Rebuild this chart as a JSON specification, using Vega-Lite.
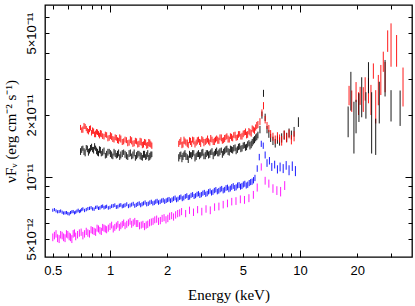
{
"$schema": "https://vega.github.io/schema/vega-lite/v6.json",
"width": 367, "height": 252,
"autosize": {"type": "none"},
"padding": {"left": 45, "top": 5, "right": 3, "bottom": 49},
"background": "white",
"config": {"view": {"stroke": "#000", "strokeWidth": 1.3}, "axis": {"grid": false, "domain": false, "tickColor": "#000", "tickWidth": 1}},
"resolve": {"axis": {"x": "independent", "y": "independent"}},
"layer": [
{
"data": {"values": [
{"s":"r","E":0.70,"F":1.74,"e":0.05},{"s":"r","E":0.72,"F":1.70,"e":0.06},{"s":"r","E":0.74,"F":1.76,"e":0.05},{"s":"r","E":0.76,"F":1.68,"e":0.05},{"s":"r","E":0.78,"F":1.71,"e":0.06},{"s":"r","E":0.80,"F":1.64,"e":0.05},{"s":"r","E":0.82,"F":1.67,"e":0.05},{"s":"r","E":0.84,"F":1.62,"e":0.06},{"s":"r","E":0.86,"F":1.65,"e":0.05},{"s":"r","E":0.88,"F":1.59,"e":0.05},{"s":"r","E":0.90,"F":1.62,"e":0.06},{"s":"r","E":0.93,"F":1.57,"e":0.05},{"s":"r","E":0.96,"F":1.60,"e":0.05},{"s":"r","E":0.99,"F":1.55,"e":0.05},{"s":"r","E":1.02,"F":1.57,"e":0.06},{"s":"r","E":1.05,"F":1.52,"e":0.05},{"s":"r","E":1.08,"F":1.55,"e":0.05},{"s":"r","E":1.11,"F":1.50,"e":0.05},{"s":"r","E":1.14,"F":1.53,"e":0.06},{"s":"r","E":1.18,"F":1.49,"e":0.05},{"s":"r","E":1.22,"F":1.51,"e":0.05},{"s":"r","E":1.26,"F":1.47,"e":0.05},{"s":"r","E":1.30,"F":1.50,"e":0.06},{"s":"r","E":1.34,"F":1.46,"e":0.05},{"s":"r","E":1.38,"F":1.49,"e":0.05},{"s":"r","E":1.42,"F":1.45,"e":0.05},{"s":"r","E":1.46,"F":1.48,"e":0.06},{"s":"r","E":1.50,"F":1.44,"e":0.05},{"s":"r","E":1.54,"F":1.47,"e":0.05},{"s":"r","E":1.58,"F":1.43,"e":0.05},{"s":"r","E":1.62,"F":1.46,"e":0.06},{"s":"r","E":1.66,"F":1.42,"e":0.05},
{"s":"r","E":0.71,"F":1.69,"e":0.05},{"s":"r","E":0.73,"F":1.77,"e":0.06},{"s":"r","E":0.75,"F":1.72,"e":0.05},{"s":"r","E":0.77,"F":1.66,"e":0.05},{"s":"r","E":0.79,"F":1.73,"e":0.05},{"s":"r","E":0.81,"F":1.68,"e":0.06},{"s":"r","E":0.83,"F":1.61,"e":0.05},{"s":"r","E":0.85,"F":1.66,"e":0.05},{"s":"r","E":0.87,"F":1.62,"e":0.05},{"s":"r","E":0.89,"F":1.63,"e":0.06},{"s":"r","E":0.915,"F":1.58,"e":0.05},{"s":"r","E":0.945,"F":1.61,"e":0.05},{"s":"r","E":0.975,"F":1.54,"e":0.05},{"s":"r","E":1.005,"F":1.59,"e":0.06},{"s":"r","E":1.035,"F":1.53,"e":0.05},{"s":"r","E":1.065,"F":1.56,"e":0.05},{"s":"r","E":1.095,"F":1.51,"e":0.05},{"s":"r","E":1.125,"F":1.55,"e":0.06},{"s":"r","E":1.16,"F":1.48,"e":0.05},{"s":"r","E":1.20,"F":1.52,"e":0.05},{"s":"r","E":1.24,"F":1.46,"e":0.05},{"s":"r","E":1.28,"F":1.52,"e":0.06},{"s":"r","E":1.32,"F":1.45,"e":0.05},{"s":"r","E":1.36,"F":1.50,"e":0.05},{"s":"r","E":1.40,"F":1.44,"e":0.05},{"s":"r","E":1.44,"F":1.49,"e":0.06},{"s":"r","E":1.48,"F":1.43,"e":0.05},{"s":"r","E":1.52,"F":1.48,"e":0.05},{"s":"r","E":1.56,"F":1.42,"e":0.05},{"s":"r","E":1.60,"F":1.47,"e":0.06},{"s":"r","E":1.64,"F":1.44,"e":0.05},
{"s":"k","E":0.70,"F":1.33,"e":0.05},{"s":"k","E":0.72,"F":1.38,"e":0.04},{"s":"k","E":0.74,"F":1.31,"e":0.05},{"s":"k","E":0.76,"F":1.37,"e":0.05},{"s":"k","E":0.78,"F":1.34,"e":0.04},{"s":"k","E":0.80,"F":1.40,"e":0.05},{"s":"k","E":0.82,"F":1.35,"e":0.05},{"s":"k","E":0.84,"F":1.38,"e":0.04},{"s":"k","E":0.86,"F":1.32,"e":0.05},{"s":"k","E":0.88,"F":1.36,"e":0.05},{"s":"k","E":0.90,"F":1.30,"e":0.04},{"s":"k","E":0.93,"F":1.34,"e":0.05},{"s":"k","E":0.96,"F":1.29,"e":0.05},{"s":"k","E":0.99,"F":1.33,"e":0.04},{"s":"k","E":1.02,"F":1.28,"e":0.05},{"s":"k","E":1.05,"F":1.32,"e":0.05},{"s":"k","E":1.08,"F":1.27,"e":0.04},{"s":"k","E":1.11,"F":1.31,"e":0.05},{"s":"k","E":1.14,"F":1.28,"e":0.05},{"s":"k","E":1.18,"F":1.32,"e":0.04},{"s":"k","E":1.22,"F":1.27,"e":0.05},{"s":"k","E":1.26,"F":1.30,"e":0.05},{"s":"k","E":1.30,"F":1.26,"e":0.04},{"s":"k","E":1.34,"F":1.31,"e":0.05},{"s":"k","E":1.38,"F":1.27,"e":0.05},{"s":"k","E":1.42,"F":1.30,"e":0.04},{"s":"k","E":1.46,"F":1.26,"e":0.05},{"s":"k","E":1.50,"F":1.29,"e":0.05},{"s":"k","E":1.54,"F":1.25,"e":0.04},{"s":"k","E":1.58,"F":1.30,"e":0.05},{"s":"k","E":1.62,"F":1.26,"e":0.05},{"s":"k","E":1.66,"F":1.29,"e":0.04},
{"s":"k","E":0.71,"F":1.36,"e":0.05},{"s":"k","E":0.73,"F":1.33,"e":0.05},{"s":"k","E":0.75,"F":1.39,"e":0.04},{"s":"k","E":0.77,"F":1.32,"e":0.05},{"s":"k","E":0.79,"F":1.38,"e":0.05},{"s":"k","E":0.81,"F":1.36,"e":0.04},{"s":"k","E":0.83,"F":1.41,"e":0.05},{"s":"k","E":0.85,"F":1.34,"e":0.05},{"s":"k","E":0.87,"F":1.30,"e":0.04},{"s":"k","E":0.89,"F":1.35,"e":0.05},{"s":"k","E":0.915,"F":1.32,"e":0.05},{"s":"k","E":0.945,"F":1.27,"e":0.04},{"s":"k","E":0.975,"F":1.32,"e":0.05},{"s":"k","E":1.005,"F":1.30,"e":0.05},{"s":"k","E":1.035,"F":1.26,"e":0.04},{"s":"k","E":1.065,"F":1.30,"e":0.05},{"s":"k","E":1.095,"F":1.29,"e":0.05},{"s":"k","E":1.125,"F":1.25,"e":0.04},{"s":"k","E":1.16,"F":1.30,"e":0.05},{"s":"k","E":1.20,"F":1.29,"e":0.05},{"s":"k","E":1.24,"F":1.25,"e":0.04},{"s":"k","E":1.28,"F":1.31,"e":0.05},{"s":"k","E":1.32,"F":1.28,"e":0.05},{"s":"k","E":1.36,"F":1.24,"e":0.04},{"s":"k","E":1.40,"F":1.29,"e":0.05},{"s":"k","E":1.44,"F":1.27,"e":0.05},{"s":"k","E":1.48,"F":1.24,"e":0.04},{"s":"k","E":1.52,"F":1.29,"e":0.05},{"s":"k","E":1.56,"F":1.27,"e":0.05},{"s":"k","E":1.60,"F":1.24,"e":0.04},{"s":"k","E":1.64,"F":1.28,"e":0.05},
{"s":"k","E":2.30,"F":1.24,"e":0.05},{"s":"k","E":2.36,"F":1.29,"e":0.04},{"s":"k","E":2.42,"F":1.26,"e":0.05},{"s":"k","E":2.48,"F":1.30,"e":0.05},{"s":"k","E":2.55,"F":1.25,"e":0.04},{"s":"k","E":2.62,"F":1.29,"e":0.05},{"s":"k","E":2.69,"F":1.27,"e":0.05},{"s":"k","E":2.76,"F":1.31,"e":0.04},{"s":"k","E":2.84,"F":1.26,"e":0.05},{"s":"k","E":2.92,"F":1.30,"e":0.05},{"s":"k","E":3.00,"F":1.28,"e":0.04},{"s":"k","E":3.08,"F":1.32,"e":0.05},{"s":"k","E":3.17,"F":1.27,"e":0.05},{"s":"k","E":3.26,"F":1.31,"e":0.04},{"s":"k","E":3.35,"F":1.29,"e":0.05},{"s":"k","E":3.44,"F":1.33,"e":0.05},{"s":"k","E":3.54,"F":1.30,"e":0.04},{"s":"k","E":3.64,"F":1.34,"e":0.05},{"s":"k","E":3.74,"F":1.31,"e":0.05},{"s":"k","E":3.85,"F":1.35,"e":0.04},{"s":"k","E":3.96,"F":1.32,"e":0.05},{"s":"k","E":4.07,"F":1.36,"e":0.05},{"s":"k","E":4.18,"F":1.33,"e":0.05},{"s":"k","E":4.30,"F":1.37,"e":0.05},{"s":"k","E":4.42,"F":1.35,"e":0.05},{"s":"k","E":4.55,"F":1.39,"e":0.05},{"s":"k","E":4.68,"F":1.36,"e":0.05},{"s":"k","E":4.81,"F":1.41,"e":0.05},{"s":"k","E":4.95,"F":1.38,"e":0.05},{"s":"k","E":5.09,"F":1.43,"e":0.05},{"s":"k","E":5.23,"F":1.40,"e":0.05},{"s":"k","E":5.38,"F":1.46,"e":0.05},{"s":"k","E":5.53,"F":1.44,"e":0.06},{"s":"k","E":5.68,"F":1.50,"e":0.06},{"s":"k","E":5.84,"F":1.55,"e":0.06},{"s":"k","E":6.00,"F":1.60,"e":0.06},{"s":"k","E":6.15,"F":1.70,"e":0.07},{"s":"k","E":6.30,"F":2.00,"e":0.08},{"s":"k","E":6.42,"F":2.55,"e":0.10},{"s":"k","E":6.55,"F":1.95,"e":0.08},{"s":"k","E":6.70,"F":1.70,"e":0.07},{"s":"k","E":6.85,"F":1.62,"e":0.07},{"s":"k","E":7.00,"F":1.55,"e":0.07},{"s":"k","E":7.20,"F":1.50,"e":0.07},{"s":"k","E":7.40,"F":1.46,"e":0.07},{"s":"k","E":7.60,"F":1.52,"e":0.07},{"s":"k","E":7.80,"F":1.49,"e":0.07},{"s":"k","E":8.00,"F":1.55,"e":0.08},{"s":"k","E":8.25,"F":1.60,"e":0.08},{"s":"k","E":8.50,"F":1.56,"e":0.08},{"s":"k","E":8.75,"F":1.64,"e":0.08},{"s":"k","E":9.00,"F":1.60,"e":0.08},{"s":"k","E":9.30,"F":1.66,"e":0.09},{"s":"k","E":9.80,"F":1.85,"e":0.10},
{"s":"k","E":2.33,"F":1.27,"e":0.05},{"s":"k","E":2.39,"F":1.23,"e":0.05},{"s":"k","E":2.45,"F":1.29,"e":0.04},{"s":"k","E":2.51,"F":1.26,"e":0.05},{"s":"k","E":2.58,"F":1.22,"e":0.05},{"s":"k","E":2.65,"F":1.28,"e":0.04},{"s":"k","E":2.72,"F":1.30,"e":0.05},{"s":"k","E":2.80,"F":1.24,"e":0.05},{"s":"k","E":2.88,"F":1.29,"e":0.04},{"s":"k","E":2.96,"F":1.27,"e":0.05},{"s":"k","E":3.04,"F":1.31,"e":0.05},{"s":"k","E":3.12,"F":1.26,"e":0.04},{"s":"k","E":3.21,"F":1.30,"e":0.05},{"s":"k","E":3.30,"F":1.28,"e":0.05},{"s":"k","E":3.39,"F":1.32,"e":0.04},{"s":"k","E":3.49,"F":1.27,"e":0.05},{"s":"k","E":3.59,"F":1.32,"e":0.05},{"s":"k","E":3.69,"F":1.30,"e":0.04},{"s":"k","E":3.79,"F":1.33,"e":0.05},{"s":"k","E":3.90,"F":1.29,"e":0.05},{"s":"k","E":4.01,"F":1.34,"e":0.05},{"s":"k","E":4.12,"F":1.37,"e":0.05},{"s":"k","E":4.24,"F":1.32,"e":0.05},{"s":"k","E":4.36,"F":1.36,"e":0.05},{"s":"k","E":4.48,"F":1.38,"e":0.05},{"s":"k","E":4.61,"F":1.34,"e":0.05},{"s":"k","E":4.74,"F":1.40,"e":0.05},{"s":"k","E":4.88,"F":1.37,"e":0.05},{"s":"k","E":5.02,"F":1.42,"e":0.05},{"s":"k","E":5.16,"F":1.39,"e":0.05},{"s":"k","E":5.30,"F":1.44,"e":0.05},{"s":"k","E":5.45,"F":1.42,"e":0.06},{"s":"k","E":5.60,"F":1.47,"e":0.06},{"s":"k","E":5.76,"F":1.52,"e":0.06},{"s":"k","E":5.92,"F":1.57,"e":0.06},
{"s":"r","E":2.30,"F":1.45,"e":0.05},{"s":"r","E":2.36,"F":1.50,"e":0.06},{"s":"r","E":2.42,"F":1.44,"e":0.05},{"s":"r","E":2.48,"F":1.49,"e":0.05},{"s":"r","E":2.55,"F":1.46,"e":0.06},{"s":"r","E":2.62,"F":1.51,"e":0.05},{"s":"r","E":2.69,"F":1.45,"e":0.05},{"s":"r","E":2.76,"F":1.50,"e":0.06},{"s":"r","E":2.84,"F":1.47,"e":0.05},{"s":"r","E":2.92,"F":1.52,"e":0.05},{"s":"r","E":3.00,"F":1.46,"e":0.06},{"s":"r","E":3.08,"F":1.51,"e":0.05},{"s":"r","E":3.17,"F":1.48,"e":0.05},{"s":"r","E":3.26,"F":1.53,"e":0.06},{"s":"r","E":3.35,"F":1.47,"e":0.05},{"s":"r","E":3.44,"F":1.52,"e":0.05},{"s":"r","E":3.54,"F":1.49,"e":0.06},{"s":"r","E":3.64,"F":1.54,"e":0.05},{"s":"r","E":3.74,"F":1.50,"e":0.05},{"s":"r","E":3.85,"F":1.55,"e":0.06},{"s":"r","E":3.96,"F":1.51,"e":0.05},{"s":"r","E":4.07,"F":1.56,"e":0.05},{"s":"r","E":4.18,"F":1.53,"e":0.06},{"s":"r","E":4.30,"F":1.58,"e":0.05},{"s":"r","E":4.42,"F":1.54,"e":0.05},{"s":"r","E":4.55,"F":1.60,"e":0.06},{"s":"r","E":4.68,"F":1.56,"e":0.05},{"s":"r","E":4.81,"F":1.62,"e":0.05},{"s":"r","E":4.95,"F":1.58,"e":0.06},{"s":"r","E":5.09,"F":1.64,"e":0.05},{"s":"r","E":5.23,"F":1.60,"e":0.06},{"s":"r","E":5.38,"F":1.67,"e":0.06},{"s":"r","E":5.53,"F":1.63,"e":0.06},{"s":"r","E":5.68,"F":1.70,"e":0.06},{"s":"r","E":5.84,"F":1.74,"e":0.06},{"s":"r","E":6.00,"F":1.80,"e":0.07},{"s":"r","E":6.15,"F":1.86,"e":0.07},{"s":"r","E":6.30,"F":2.05,"e":0.08},{"s":"r","E":6.42,"F":2.22,"e":0.09},{"s":"r","E":6.55,"F":1.90,"e":0.08},{"s":"r","E":6.70,"F":1.78,"e":0.07},{"s":"r","E":6.85,"F":1.72,"e":0.07},{"s":"r","E":7.00,"F":1.62,"e":0.07},{"s":"r","E":7.20,"F":1.57,"e":0.07},{"s":"r","E":7.40,"F":1.52,"e":0.07},{"s":"r","E":7.60,"F":1.58,"e":0.07},{"s":"r","E":7.80,"F":1.54,"e":0.07},{"s":"r","E":8.00,"F":1.50,"e":0.08},{"s":"r","E":8.25,"F":1.60,"e":0.08},{"s":"r","E":8.50,"F":1.55,"e":0.08},{"s":"r","E":8.75,"F":1.62,"e":0.08},{"s":"r","E":9.00,"F":1.52,"e":0.08},{"s":"r","E":9.30,"F":1.58,"e":0.09},
{"s":"r","E":2.33,"F":1.48,"e":0.05},{"s":"r","E":2.39,"F":1.43,"e":0.05},{"s":"r","E":2.45,"F":1.51,"e":0.06},{"s":"r","E":2.51,"F":1.47,"e":0.05},{"s":"r","E":2.58,"F":1.43,"e":0.05},{"s":"r","E":2.65,"F":1.49,"e":0.06},{"s":"r","E":2.72,"F":1.52,"e":0.05},{"s":"r","E":2.80,"F":1.44,"e":0.05},{"s":"r","E":2.88,"F":1.50,"e":0.06},{"s":"r","E":2.96,"F":1.48,"e":0.05},{"s":"r","E":3.04,"F":1.53,"e":0.05},{"s":"r","E":3.12,"F":1.47,"e":0.06},{"s":"r","E":3.21,"F":1.50,"e":0.05},{"s":"r","E":3.30,"F":1.49,"e":0.05},{"s":"r","E":3.39,"F":1.54,"e":0.06},{"s":"r","E":3.49,"F":1.48,"e":0.05},{"s":"r","E":3.59,"F":1.52,"e":0.05},{"s":"r","E":3.69,"F":1.51,"e":0.06},{"s":"r","E":3.79,"F":1.56,"e":0.05},{"s":"r","E":3.90,"F":1.50,"e":0.05},{"s":"r","E":4.01,"F":1.54,"e":0.06},{"s":"r","E":4.12,"F":1.58,"e":0.05},{"s":"r","E":4.24,"F":1.52,"e":0.05},{"s":"r","E":4.36,"F":1.56,"e":0.06},{"s":"r","E":4.48,"F":1.60,"e":0.05},{"s":"r","E":4.61,"F":1.55,"e":0.05},{"s":"r","E":4.74,"F":1.61,"e":0.06},{"s":"r","E":4.88,"F":1.57,"e":0.05},{"s":"r","E":5.02,"F":1.62,"e":0.06},{"s":"r","E":5.16,"F":1.66,"e":0.06},{"s":"r","E":5.30,"F":1.61,"e":0.06},{"s":"r","E":5.45,"F":1.65,"e":0.06},{"s":"r","E":5.60,"F":1.72,"e":0.06},{"s":"r","E":5.76,"F":1.68,"e":0.06},{"s":"r","E":5.92,"F":1.78,"e":0.07},
{"s":"b","E":0.50,"F":0.690,"e":0.012},{"s":"b","E":0.52,"F":0.685,"e":0.012},{"s":"b","E":0.54,"F":0.680,"e":0.012},{"s":"b","E":0.56,"F":0.675,"e":0.012},{"s":"b","E":0.58,"F":0.670,"e":0.012},{"s":"b","E":0.60,"F":0.665,"e":0.012},{"s":"b","E":0.62,"F":0.672,"e":0.012},{"s":"b","E":0.64,"F":0.680,"e":0.012},{"s":"b","E":0.66,"F":0.675,"e":0.012},{"s":"b","E":0.68,"F":0.690,"e":0.012},{"s":"b","E":0.70,"F":0.685,"e":0.012},{"s":"b","E":0.72,"F":0.700,"e":0.013},{"s":"b","E":0.75,"F":0.695,"e":0.013},{"s":"b","E":0.78,"F":0.705,"e":0.013},{"s":"b","E":0.81,"F":0.700,"e":0.013},{"s":"b","E":0.84,"F":0.712,"e":0.013},{"s":"b","E":0.87,"F":0.705,"e":0.013},{"s":"b","E":0.90,"F":0.718,"e":0.014},{"s":"b","E":0.93,"F":0.710,"e":0.014},{"s":"b","E":0.96,"F":0.720,"e":0.014},{"s":"b","E":1.00,"F":0.712,"e":0.014},{"s":"b","E":1.04,"F":0.725,"e":0.015},{"s":"b","E":1.08,"F":0.715,"e":0.015},{"s":"b","E":1.12,"F":0.728,"e":0.015},{"s":"b","E":1.16,"F":0.720,"e":0.015},{"s":"b","E":1.20,"F":0.730,"e":0.016},{"s":"b","E":1.25,"F":0.722,"e":0.016},{"s":"b","E":1.30,"F":0.735,"e":0.016},{"s":"b","E":1.35,"F":0.725,"e":0.016},{"s":"b","E":1.40,"F":0.740,"e":0.017},{"s":"b","E":1.45,"F":0.730,"e":0.017},{"s":"b","E":1.50,"F":0.745,"e":0.017},{"s":"b","E":1.56,"F":0.738,"e":0.018},{"s":"b","E":1.62,"F":0.752,"e":0.018},{"s":"b","E":1.68,"F":0.745,"e":0.018},{"s":"b","E":1.74,"F":0.760,"e":0.019},{"s":"b","E":1.80,"F":0.752,"e":0.019},{"s":"b","E":1.87,"F":0.768,"e":0.019},{"s":"b","E":1.94,"F":0.760,"e":0.020},{"s":"b","E":2.01,"F":0.775,"e":0.020},{"s":"b","E":2.08,"F":0.768,"e":0.020},{"s":"b","E":2.16,"F":0.785,"e":0.021},{"s":"b","E":2.24,"F":0.775,"e":0.021},{"s":"b","E":2.32,"F":0.795,"e":0.021},{"s":"b","E":2.40,"F":0.785,"e":0.022},{"s":"b","E":2.49,"F":0.805,"e":0.022},{"s":"b","E":2.58,"F":0.795,"e":0.022},{"s":"b","E":2.67,"F":0.815,"e":0.023},{"s":"b","E":2.77,"F":0.805,"e":0.023},{"s":"b","E":2.87,"F":0.825,"e":0.023},{"s":"b","E":2.97,"F":0.815,"e":0.024},{"s":"b","E":3.08,"F":0.835,"e":0.024},{"s":"b","E":3.19,"F":0.825,"e":0.024},{"s":"b","E":3.30,"F":0.848,"e":0.025},{"s":"b","E":3.42,"F":0.838,"e":0.025},{"s":"b","E":3.54,"F":0.860,"e":0.026},{"s":"b","E":3.67,"F":0.850,"e":0.026},{"s":"b","E":3.80,"F":0.870,"e":0.027},{"s":"b","E":3.94,"F":0.860,"e":0.027},{"s":"b","E":4.08,"F":0.885,"e":0.028},{"s":"b","E":4.22,"F":0.872,"e":0.028},{"s":"b","E":4.37,"F":0.895,"e":0.029},{"s":"b","E":4.53,"F":0.885,"e":0.029},{"s":"b","E":4.69,"F":0.910,"e":0.030},{"s":"b","E":4.86,"F":0.898,"e":0.030},{"s":"b","E":5.03,"F":0.920,"e":0.031},{"s":"b","E":5.21,"F":0.910,"e":0.031},{"s":"b","E":5.40,"F":0.935,"e":0.032},{"s":"b","E":5.59,"F":0.950,"e":0.033},{"s":"b","E":5.79,"F":0.990,"e":0.035},{"s":"b","E":5.95,"F":1.10,"e":0.040},{"s":"b","E":6.10,"F":1.25,"e":0.045},{"s":"b","E":6.25,"F":1.45,"e":0.050},{"s":"b","E":6.40,"F":1.42,"e":0.050},{"s":"b","E":6.55,"F":1.28,"e":0.050},{"s":"b","E":6.70,"F":1.17,"e":0.050},{"s":"b","E":6.90,"F":1.20,"e":0.050},{"s":"b","E":7.10,"F":1.12,"e":0.050},{"s":"b","E":7.35,"F":1.15,"e":0.050},{"s":"b","E":7.60,"F":1.09,"e":0.050},{"s":"b","E":7.85,"F":1.12,"e":0.055},{"s":"b","E":8.15,"F":1.10,"e":0.055},{"s":"b","E":8.45,"F":1.14,"e":0.055},{"s":"b","E":8.75,"F":1.08,"e":0.060},{"s":"b","E":9.10,"F":1.13,"e":0.060},{"s":"b","E":9.45,"F":1.07,"e":0.060},
{"s":"b","E":0.51,"F":0.695,"e":0.012},{"s":"b","E":0.53,"F":0.678,"e":0.012},{"s":"b","E":0.55,"F":0.684,"e":0.012},{"s":"b","E":0.57,"F":0.668,"e":0.012},{"s":"b","E":0.59,"F":0.672,"e":0.012},{"s":"b","E":0.61,"F":0.662,"e":0.012},{"s":"b","E":0.63,"F":0.678,"e":0.012},{"s":"b","E":0.65,"F":0.670,"e":0.012},{"s":"b","E":0.67,"F":0.683,"e":0.012},{"s":"b","E":0.69,"F":0.680,"e":0.012},{"s":"b","E":0.71,"F":0.695,"e":0.013},{"s":"b","E":0.735,"F":0.688,"e":0.013},{"s":"b","E":0.765,"F":0.702,"e":0.013},{"s":"b","E":0.795,"F":0.710,"e":0.013},{"s":"b","E":0.825,"F":0.698,"e":0.013},{"s":"b","E":0.855,"F":0.715,"e":0.013},{"s":"b","E":0.885,"F":0.708,"e":0.014},{"s":"b","E":0.915,"F":0.722,"e":0.014},{"s":"b","E":0.945,"F":0.715,"e":0.014},{"s":"b","E":0.98,"F":0.708,"e":0.014},{"s":"b","E":1.02,"F":0.722,"e":0.015},{"s":"b","E":1.06,"F":0.730,"e":0.015},{"s":"b","E":1.10,"F":0.718,"e":0.015},{"s":"b","E":1.14,"F":0.732,"e":0.015},{"s":"b","E":1.18,"F":0.725,"e":0.016},{"s":"b","E":1.225,"F":0.738,"e":0.016},{"s":"b","E":1.275,"F":0.728,"e":0.016},{"s":"b","E":1.325,"F":0.742,"e":0.016},{"s":"b","E":1.375,"F":0.732,"e":0.017},{"s":"b","E":1.425,"F":0.745,"e":0.017},{"s":"b","E":1.475,"F":0.738,"e":0.017},{"s":"b","E":1.53,"F":0.752,"e":0.018},{"s":"b","E":1.59,"F":0.742,"e":0.018},{"s":"b","E":1.65,"F":0.758,"e":0.018},{"s":"b","E":1.71,"F":0.750,"e":0.019},{"s":"b","E":1.77,"F":0.765,"e":0.019},{"s":"b","E":1.835,"F":0.758,"e":0.019},{"s":"b","E":1.905,"F":0.772,"e":0.020},{"s":"b","E":1.975,"F":0.768,"e":0.020},{"s":"b","E":2.045,"F":0.780,"e":0.020},{"s":"b","E":2.12,"F":0.775,"e":0.021},{"s":"b","E":2.20,"F":0.792,"e":0.021},{"s":"b","E":2.28,"F":0.782,"e":0.021},{"s":"b","E":2.36,"F":0.800,"e":0.022},{"s":"b","E":2.445,"F":0.792,"e":0.022},{"s":"b","E":2.535,"F":0.812,"e":0.022},{"s":"b","E":2.625,"F":0.800,"e":0.023},{"s":"b","E":2.72,"F":0.822,"e":0.023},{"s":"b","E":2.82,"F":0.812,"e":0.023},{"s":"b","E":2.92,"F":0.830,"e":0.024},{"s":"b","E":3.025,"F":0.822,"e":0.024},{"s":"b","E":3.135,"F":0.842,"e":0.024},{"s":"b","E":3.245,"F":0.832,"e":0.025},{"s":"b","E":3.36,"F":0.855,"e":0.025},{"s":"b","E":3.48,"F":0.845,"e":0.026},{"s":"b","E":3.605,"F":0.868,"e":0.026},{"s":"b","E":3.735,"F":0.858,"e":0.027},{"s":"b","E":3.87,"F":0.878,"e":0.027},{"s":"b","E":4.01,"F":0.868,"e":0.028},{"s":"b","E":4.15,"F":0.890,"e":0.028},{"s":"b","E":4.295,"F":0.880,"e":0.029},{"s":"b","E":4.45,"F":0.905,"e":0.029},{"s":"b","E":4.61,"F":0.892,"e":0.030},{"s":"b","E":4.775,"F":0.915,"e":0.030},{"s":"b","E":4.945,"F":0.905,"e":0.031},{"s":"b","E":5.12,"F":0.928,"e":0.031},{"s":"b","E":5.305,"F":0.918,"e":0.032},{"s":"b","E":5.495,"F":0.945,"e":0.032},{"s":"b","E":5.69,"F":0.965,"e":0.034},
{"s":"m","E":0.50,"F":0.510,"e":0.022},{"s":"m","E":0.52,"F":0.530,"e":0.022},{"s":"m","E":0.54,"F":0.500,"e":0.022},{"s":"m","E":0.56,"F":0.520,"e":0.022},{"s":"m","E":0.58,"F":0.505,"e":0.022},{"s":"m","E":0.60,"F":0.525,"e":0.022},{"s":"m","E":0.62,"F":0.510,"e":0.022},{"s":"m","E":0.64,"F":0.530,"e":0.022},{"s":"m","E":0.66,"F":0.515,"e":0.022},{"s":"m","E":0.69,"F":0.535,"e":0.022},{"s":"m","E":0.72,"F":0.520,"e":0.022},{"s":"m","E":0.75,"F":0.545,"e":0.022},{"s":"m","E":0.78,"F":0.530,"e":0.022},{"s":"m","E":0.81,"F":0.550,"e":0.022},{"s":"m","E":0.84,"F":0.540,"e":0.022},{"s":"m","E":0.87,"F":0.560,"e":0.022},{"s":"m","E":0.90,"F":0.545,"e":0.022},{"s":"m","E":0.93,"F":0.565,"e":0.022},{"s":"m","E":0.96,"F":0.555,"e":0.022},{"s":"m","E":1.00,"F":0.575,"e":0.022},{"s":"m","E":1.04,"F":0.560,"e":0.022},{"s":"m","E":1.08,"F":0.580,"e":0.022},{"s":"m","E":1.12,"F":0.570,"e":0.022},{"s":"m","E":1.16,"F":0.590,"e":0.022},{"s":"m","E":1.20,"F":0.580,"e":0.022},{"s":"m","E":1.25,"F":0.600,"e":0.023},{"s":"m","E":1.30,"F":0.590,"e":0.023},{"s":"m","E":1.35,"F":0.610,"e":0.023},{"s":"m","E":1.40,"F":0.595,"e":0.023},{"s":"m","E":1.46,"F":0.585,"e":0.023},{"s":"m","E":1.52,"F":0.575,"e":0.023},{"s":"m","E":1.58,"F":0.590,"e":0.024},{"s":"m","E":1.65,"F":0.605,"e":0.024},{"s":"m","E":1.72,"F":0.620,"e":0.024},{"s":"m","E":1.80,"F":0.610,"e":0.025},{"s":"m","E":1.88,"F":0.630,"e":0.025},{"s":"m","E":1.97,"F":0.620,"e":0.025},{"s":"m","E":2.06,"F":0.645,"e":0.026},{"s":"m","E":2.16,"F":0.640,"e":0.026},{"s":"m","E":2.27,"F":0.665,"e":0.027},{"s":"m","E":2.38,"F":0.680,"e":0.027},{"s":"m","E":2.50,"F":0.665,"e":0.027},{"s":"m","E":2.62,"F":0.690,"e":0.028},{"s":"m","E":2.75,"F":0.675,"e":0.028},{"s":"m","E":2.89,"F":0.695,"e":0.028},{"s":"m","E":3.04,"F":0.680,"e":0.029},{"s":"m","E":3.20,"F":0.700,"e":0.029},{"s":"m","E":3.37,"F":0.690,"e":0.030},{"s":"m","E":3.55,"F":0.715,"e":0.030},{"s":"m","E":3.74,"F":0.720,"e":0.031},{"s":"m","E":3.94,"F":0.735,"e":0.031},{"s":"m","E":4.15,"F":0.745,"e":0.032},{"s":"m","E":4.37,"F":0.760,"e":0.032},{"s":"m","E":4.60,"F":0.765,"e":0.033},{"s":"m","E":4.85,"F":0.780,"e":0.034},{"s":"m","E":5.10,"F":0.775,"e":0.034},{"s":"m","E":5.38,"F":0.790,"e":0.035},{"s":"m","E":5.68,"F":0.820,"e":0.036},{"s":"m","E":5.95,"F":0.890,"e":0.040},{"s":"m","E":6.25,"F":1.12,"e":0.045},{"s":"m","E":6.55,"F":0.960,"e":0.042},{"s":"m","E":6.85,"F":0.930,"e":0.042},{"s":"m","E":7.20,"F":0.880,"e":0.042},{"s":"m","E":7.55,"F":0.860,"e":0.042},{"s":"m","E":7.90,"F":0.850,"e":0.045},{"s":"m","E":8.30,"F":0.910,"e":0.045},
{"s":"m","E":0.51,"F":0.520,"e":0.022},{"s":"m","E":0.53,"F":0.505,"e":0.022},{"s":"m","E":0.55,"F":0.525,"e":0.022},{"s":"m","E":0.57,"F":0.510,"e":0.022},{"s":"m","E":0.59,"F":0.530,"e":0.022},{"s":"m","E":0.61,"F":0.515,"e":0.022},{"s":"m","E":0.63,"F":0.500,"e":0.022},{"s":"m","E":0.65,"F":0.535,"e":0.022},{"s":"m","E":0.675,"F":0.525,"e":0.022},{"s":"m","E":0.705,"F":0.540,"e":0.022},{"s":"m","E":0.735,"F":0.530,"e":0.022},{"s":"m","E":0.765,"F":0.535,"e":0.022},{"s":"m","E":0.795,"F":0.555,"e":0.022},{"s":"m","E":0.825,"F":0.545,"e":0.022},{"s":"m","E":0.855,"F":0.565,"e":0.022},{"s":"m","E":0.885,"F":0.550,"e":0.022},{"s":"m","E":0.915,"F":0.570,"e":0.022},{"s":"m","E":0.945,"F":0.560,"e":0.022},{"s":"m","E":0.98,"F":0.565,"e":0.022},{"s":"m","E":1.02,"F":0.585,"e":0.022},{"s":"m","E":1.06,"F":0.570,"e":0.022},{"s":"m","E":1.10,"F":0.590,"e":0.022},{"s":"m","E":1.14,"F":0.580,"e":0.022},{"s":"m","E":1.18,"F":0.600,"e":0.022},{"s":"m","E":1.225,"F":0.590,"e":0.023},{"s":"m","E":1.275,"F":0.610,"e":0.023},{"s":"m","E":1.325,"F":0.600,"e":0.023},{"s":"m","E":1.375,"F":0.595,"e":0.023},{"s":"m","E":1.43,"F":0.580,"e":0.023},{"s":"m","E":1.49,"F":0.590,"e":0.023},{"s":"m","E":1.55,"F":0.585,"e":0.024},{"s":"m","E":1.615,"F":0.600,"e":0.024},{"s":"m","E":1.685,"F":0.610,"e":0.024},{"s":"m","E":1.76,"F":0.625,"e":0.025},{"s":"m","E":1.84,"F":0.615,"e":0.025},{"s":"m","E":1.925,"F":0.635,"e":0.025},{"s":"m","E":2.015,"F":0.630,"e":0.026},{"s":"m","E":2.11,"F":0.650,"e":0.026},{"s":"m","E":2.215,"F":0.655,"e":0.027},{"s":"m","E":2.325,"F":0.670,"e":0.027},
{"s":"r","E":18.1,"F":2.50,"e":0.27},{"s":"r","E":18.7,"F":2.35,"e":0.28},{"s":"r","E":19.7,"F":2.60,"e":0.29},{"s":"r","E":20.3,"F":2.29,"e":0.29},{"s":"r","E":20.7,"F":2.49,"e":0.25},{"s":"r","E":21.5,"F":2.40,"e":0.33},{"s":"r","E":22.0,"F":2.70,"e":0.35},{"s":"r","E":22.9,"F":2.65,"e":0.37},{"s":"r","E":23.6,"F":2.40,"e":0.40},{"s":"r","E":24.3,"F":3.28,"e":0.28},{"s":"r","E":25.0,"F":2.23,"e":0.41},{"s":"r","E":25.8,"F":2.68,"e":0.45},{"s":"r","E":26.6,"F":3.00,"e":0.50},{"s":"r","E":27.4,"F":3.65,"e":0.41},{"s":"r","E":28.0,"F":3.10,"e":0.52},{"s":"r","E":28.9,"F":4.60,"e":0.55},{"s":"r","E":30.1,"F":4.50,"e":1.07},{"s":"r","E":32.2,"F":4.16,"e":0.73},{"s":"r","E":34.8,"F":2.80,"e":0.60},
{"s":"k","E":17.9,"F":1.88,"e":0.32},{"s":"k","E":18.5,"F":2.67,"e":0.57},{"s":"k","E":19.2,"F":1.81,"e":0.51},{"s":"k","E":19.7,"F":2.00,"e":0.37},{"s":"k","E":20.4,"F":2.20,"e":0.35},{"s":"k","E":21.1,"F":2.50,"e":0.55},{"s":"k","E":22.2,"F":2.25,"e":0.33},{"s":"k","E":22.9,"F":3.08,"e":0.53},{"s":"k","E":23.8,"F":1.94,"e":0.64},{"s":"k","E":25.0,"F":1.60,"e":0.32},{"s":"k","E":26.1,"F":2.36,"e":0.54},{"s":"k","E":28.0,"F":3.08,"e":0.62},{"s":"k","E":30.1,"F":2.25,"e":0.39},{"s":"k","E":33.6,"F":2.20,"e":0.43}
]},
"mark": {"type": "errorbar", "thickness": 0.9},
"encoding": {
"x": {"field": "E", "type": "quantitative", "scale": {"type": "log", "domain": [0.455, 38.8], "nice": false},
 "axis": {"orient": "bottom", "values": [0.5, 1, 2, 5, 10, 20], "ticks": false, "labelPadding": 7, "labelFont": "Liberation Sans", "labelFontSize": 13, "labelColor": "#000", "labelExpr": "datum.value < 0.9 ? '0.5' : format(datum.value, 'd')", "title": "Energy (keV)", "titleFont": "Liberation Serif", "titleFontSize": 15, "titleFontWeight": "normal", "titleColor": "#000", "titlePadding": 10}},
"y": {"field": "F", "type": "quantitative", "scale": {"type": "log", "domain": [0.409, 6.84], "nice": false},
 "axis": {"orient": "left", "values": [0.5, 1, 2, 5], "ticks": false, "labelPadding": 7, "labelAngle": -90, "labelAlign": "center", "labelBaseline": "bottom", "labelFont": "Liberation Sans", "labelFontSize": 13, "labelColor": "#000", "labelExpr": "datum.value < 0.7 ? '5×10⁻¹²' : datum.value < 1.5 ? '10⁻¹¹' : datum.value < 3 ? '2×10⁻¹¹' : '5×10⁻¹¹'", "title": "νFᵥ (erg cm⁻² s⁻¹)", "titleFont": "Liberation Serif", "titleFontSize": 15, "titleFontWeight": "normal", "titleColor": "#000", "titlePadding": 7}},
"yError": {"field": "e"},
"color": {"field": "s", "type": "nominal", "scale": {"domain": ["k", "r", "b", "m"], "range": ["#000000", "#ff0000", "#0000ff", "#ff00ff"]}, "legend": null}
}
},
{
"data": {"values": [{"E": 1, "F": 1}]},
"mark": {"type": "point", "opacity": 0},
"encoding": {
"x": {"field": "E", "type": "quantitative", "scale": {"type": "log", "domain": [0.455, 38.8], "nice": false}, "axis": {"orient": "bottom", "values": [0.5, 0.6, 0.7, 0.8, 0.9, 2, 3, 4, 5, 6, 7, 8, 9, 20, 30], "labels": false, "tickSize": -4, "title": null}},
"y": {"field": "F", "type": "quantitative", "scale": {"type": "log", "domain": [0.409, 6.84], "nice": false}, "axis": {"orient": "left", "values": [0.5, 0.6, 0.7, 0.8, 0.9, 2, 3, 4, 5, 6], "labels": false, "tickSize": -4, "title": null}}
}
},
{
"data": {"values": [{"E": 1, "F": 1}]},
"mark": {"type": "point", "opacity": 0},
"encoding": {
"x": {"field": "E", "type": "quantitative", "scale": {"type": "log", "domain": [0.455, 38.8], "nice": false}, "axis": {"orient": "bottom", "values": [1, 10], "labels": false, "tickSize": -7, "title": null}},
"y": {"field": "F", "type": "quantitative", "scale": {"type": "log", "domain": [0.409, 6.84], "nice": false}, "axis": {"orient": "left", "values": [1], "labels": false, "tickSize": -7, "title": null}}
}
},
{
"data": {"values": [{"E": 1, "F": 1}]},
"mark": {"type": "point", "opacity": 0},
"encoding": {
"x": {"field": "E", "type": "quantitative", "scale": {"type": "log", "domain": [0.455, 38.8], "nice": false}, "axis": {"orient": "top", "values": [0.5, 0.6, 0.7, 0.8, 0.9, 2, 3, 4, 5, 6, 7, 8, 9, 20, 30], "labels": false, "tickSize": -4, "title": null}},
"y": {"field": "F", "type": "quantitative", "scale": {"type": "log", "domain": [0.409, 6.84], "nice": false}, "axis": {"orient": "right", "values": [0.5, 0.6, 0.7, 0.8, 0.9, 2, 3, 4, 5, 6], "labels": false, "tickSize": -4, "title": null}}
}
},
{
"data": {"values": [{"E": 1, "F": 1}]},
"mark": {"type": "point", "opacity": 0},
"encoding": {
"x": {"field": "E", "type": "quantitative", "scale": {"type": "log", "domain": [0.455, 38.8], "nice": false}, "axis": {"orient": "top", "values": [1, 10], "labels": false, "tickSize": -7, "title": null}},
"y": {"field": "F", "type": "quantitative", "scale": {"type": "log", "domain": [0.409, 6.84], "nice": false}, "axis": {"orient": "right", "values": [1], "labels": false, "tickSize": -7, "title": null}}
}
}
]
}
